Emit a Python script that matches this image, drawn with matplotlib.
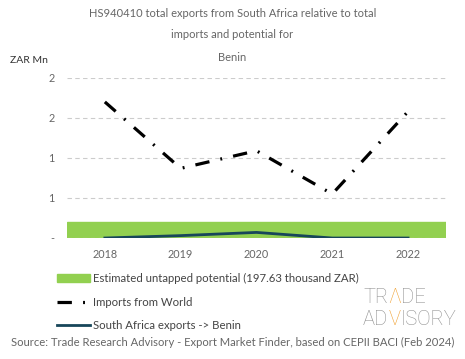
import matplotlib.pyplot as plt
import matplotlib.patches as mpatches
from matplotlib.lines import Line2D
from matplotlib.offsetbox import TextArea, HPacker, AnchoredOffsetbox

# data (ZAR Mn)
years = ['2018', '2019', '2020', '2021', '2022']
imports_world = [1.70, 0.87, 1.09, 0.55, 1.58]
sa_exports = [0.0, 0.03, 0.07, 0.0, 0.0]
potential = 0.19763  # 197.63 thousand ZAR
ytick_vals = [0, 0.5, 1.0, 1.5, 2.0]
ytick_labels = ['-', '1', '1', '2', '2']

green = '#92d050'
navy = '#17465a'
grey = '#666666'
orange = '#f0a030'

plt.rcParams['font.family'] = ['Lato', 'DejaVu Sans']

fig = plt.figure(figsize=(4.65, 3.59), dpi=100)
ax = fig.add_axes([0.144, 0.337, 0.815, 0.446])

x = list(range(len(years)))
ax.axhspan(0, potential, color=green, zorder=1)
ax.plot(x, imports_world, color='black', lw=2.3,
        linestyle=(0, (4.5, 3.5, 0.6, 3.5)), zorder=3)
ax.plot(x, sa_exports, color=navy, lw=2, zorder=2)

ax.set_xlim(-0.5, 4.5)
ax.set_ylim(0, 2.0)
ax.set_xticks(x)
ax.set_xticklabels(years)
ax.set_yticks(ytick_vals)
ax.set_yticklabels(ytick_labels)
ax.tick_params(length=0, colors=grey, labelsize=7.8, pad=9)
ax.tick_params(axis='x', pad=8)
ax.grid(axis='y', color='#cccccc', linestyle=(0, (4, 3)), lw=0.8)
for s in ax.spines.values():
    s.set_visible(False)

fig.text(0.5, 0.963, 'HS940410 total exports from South Africa relative to total',
         ha='center', va='center', fontsize=8, color=grey)
fig.text(0.5, 0.903, 'imports and potential for', ha='center', va='center',
         fontsize=8, color=grey)
fig.text(0.5, 0.841, 'Benin', ha='center', va='center', fontsize=8, color=grey)
fig.text(0.022, 0.832, 'ZAR Mn', ha='left', va='center', fontsize=7.5, color='#333333')

handles = [mpatches.Patch(color=green),
           Line2D([], [], color='black', lw=2.3, linestyle=(0, (4.5, 3.5, 0.6, 3.5))),
           Line2D([], [], color=navy, lw=2)]
labels = ['Estimated untapped potential (197.63 thousand ZAR)',
          'Imports from World',
          'South Africa exports -> Benin']
leg = fig.legend(handles, labels, loc='upper left', bbox_to_anchor=(0.122, 0.24),
                 frameon=False, fontsize=8.2, labelspacing=1.12, handlelength=2.9,
                 handletextpad=0.3, borderaxespad=0, borderpad=0)
for t in leg.get_texts():
    t.set_color('#444444')

# logo
def logo_row(parts):
    boxes = [TextArea(s, textprops=dict(color=c, fontsize=14.5, fontweight='light',
                                        family=['Roboto', 'DejaVu Sans']))
             for s, c in parts]
    return HPacker(children=boxes, sep=0, pad=0)

logo_grey = '#8f8f8f'
row1 = logo_row([('TR', logo_grey), ('\u039b', orange), ('DE', logo_grey)])
row2 = logo_row([('AD', logo_grey), ('V', orange), ('ISORY', logo_grey)])
fig.add_artist(AnchoredOffsetbox(loc='center left', child=row1, frameon=False, pad=0,
                                 borderpad=0, bbox_to_anchor=(0.781, 0.172),
                                 bbox_transform=fig.transFigure))
fig.add_artist(AnchoredOffsetbox(loc='center left', child=row2, frameon=False, pad=0,
                                 borderpad=0, bbox_to_anchor=(0.781, 0.11),
                                 bbox_transform=fig.transFigure))

fig.text(0.5, 0.047, 'Source: Trade Research Advisory - Export Market Finder, based on CEPII BACI (Feb 2024)',
         ha='center', va='center', fontsize=8.1, color=grey)

fig.savefig('out.png', dpi=100)
